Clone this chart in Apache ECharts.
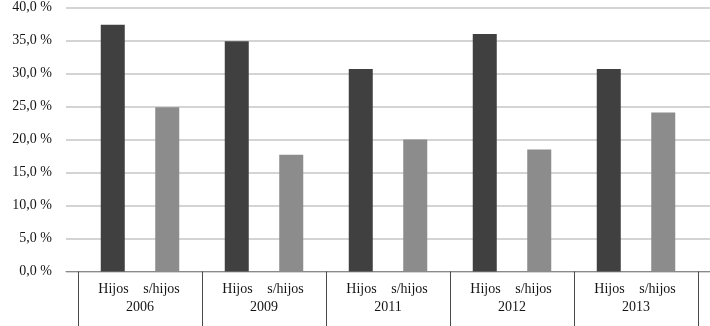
<!DOCTYPE html>
<html><head><meta charset="utf-8">
<script src="https://cdn.jsdelivr.net/npm/echarts@6/dist/echarts.min.js"></script>
<style>html,body{margin:0;padding:0;background:#fff}#c{width:710px;height:326px}</style>
</head><body><div id="c"></div>
<script>
const years = ['2006', '2009', '2011', '2012', '2013'];
const subLabels = ['Hijos', 's/hijos'];
const hijos = [37.4, 34.9, 30.7, 36.0, 30.7];
const sinHijos = [24.9, 17.7, 20.0, 18.5, 24.1];
const yTicks = [0, 5, 10, 15, 20, 25, 30, 35, 40];

const font = '"Liberation Serif", "DejaVu Serif", serif';
const txt = {color: '#151515', fontFamily: font, fontSize: 14, lineHeight: 18};
const chart = echarts.init(document.getElementById('c'), null, {renderer: 'canvas'});
chart.setOption({
  animation: false,
  backgroundColor: '#fff',
  grid: [
    {left: 78, right: 12, top: 7.5, bottom: 54.5},
    {left: 66, right: 0, top: 7.5, bottom: 54.5}
  ],
  xAxis: [
    {
      type: 'category', gridIndex: 0, data: years,
      axisLine: {show: false},
      axisTick: {show: true, length: 56, interval: 0, lineStyle: {color: '#4a4a4a', width: 1}},
      axisLabel: {
        interval: 0, margin: 9, color: '#151515', fontFamily: font, fontSize: 14, lineHeight: 18,
        formatter: v => '{a|' + subLabels[0] + '}{b|' + subLabels[1] + '}\n{y|' + v + '}',
        rich: {
          a: Object.assign({width: 43, align: 'center'}, txt),
          b: Object.assign({width: 53, align: 'center'}, txt),
          y: Object.assign({align: 'center'}, txt)
        }
      }
    },
    {
      type: 'value', gridIndex: 1, min: 0, max: 1, show: true,
      axisLine: {show: true, onZero: false, lineStyle: {color: '#8a8a8a', width: 1}},
      axisTick: {show: false}, axisLabel: {show: false}, splitLine: {show: false}
    }
  ],
  yAxis: [
    {type: 'value', gridIndex: 0, min: 0, max: 40, interval: 5, show: false, splitLine: {show: false}},
    {
      type: 'value', gridIndex: 1, min: yTicks[0], max: yTicks[yTicks.length - 1], interval: 5,
      axisLine: {show: false}, axisTick: {show: false},
      axisLabel: {margin: 14, color: '#151515', fontFamily: font, fontSize: 14,
        formatter: v => v.toFixed(1).replace('.', ',') + ' %'},
      splitLine: {show: true, lineStyle: {color: '#c6c6c6', width: 1.5}}
    }
  ],
  series: [
    {type: 'bar', name: 'Hijos', xAxisIndex: 0, yAxisIndex: 0, data: hijos,
      barWidth: 24, barGap: '127%', itemStyle: {color: '#404040'}, z: 5},
    {type: 'bar', name: 's/hijos', xAxisIndex: 0, yAxisIndex: 0, data: sinHijos,
      barWidth: 24, barGap: '127%', itemStyle: {color: '#8c8c8c'}, z: 5}
  ]
});
</script></body></html>
